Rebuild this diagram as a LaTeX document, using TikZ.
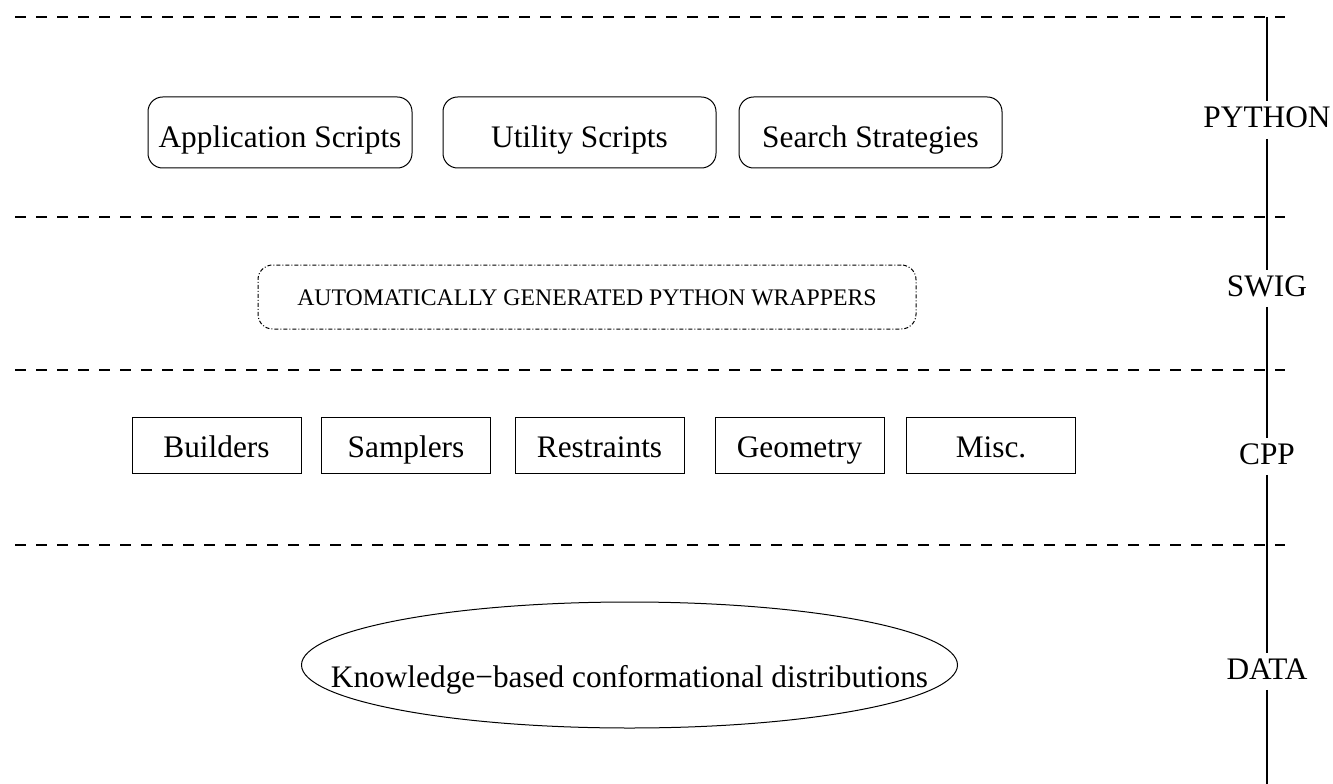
\documentclass[tikz,border=0pt]{standalone}
\usepackage{fontspec}
\setmainfont{Liberation Serif}

\tikzset{every picture/.style={line width=0.75pt}}
\tikzset{
  layer/.style={dash pattern={on 8.25pt off 7.5pt},line width=0.9pt},
  scriptbox/.style={draw,rounded corners=11pt,minimum width=#1,minimum height=53.25pt,inner sep=0pt,text height=23.25pt,text depth=0pt,font=\fontsize{23.5}{28}\selectfont},
  modbox/.style={draw,minimum width=126.75pt,minimum height=42pt,inner sep=0pt,text height=18pt,text depth=0pt,font=\fontsize{23.5}{28}\selectfont},
  layername/.style={anchor=base,inner xsep=2pt,inner ysep=3pt,text height=16.5pt,text depth=4.7pt,font=\fontsize{23.5}{28}\selectfont}
}

\begin{document}
\begin{tikzpicture}[x=0.75pt,y=0.75pt,yscale=-1,xscale=1]
		\useasboundingbox (0,0) rectangle (1333,784);

		%Straight Lines (layer borders)
		\draw [layer]  (15,17) -- (1285,17) ;
		\draw [layer]  (15,217) -- (1285,217) ;
		\draw [layer]  (15,370) -- (1285,370) ;
		\draw [layer]  (15,545) -- (1285,545) ;

		% Text Node
		\node [layername] (python) at (1267,128) {PYTHON};
		% Text Node
		\node [layername] (swig) at (1267,296) {SWIG};
		% Text Node
		\node [layername] (cpp) at (1267,464) {CPP};
		% Text Node
		\node [layername] (data) at (1267,679) {DATA};

		%Straight Lines (axis)
		\coordinate (top) at (1267,17);
		\coordinate (bottom) at (1267,784);
		\draw [line width=0.9pt]  (top) -- (python) -- (swig) -- (cpp) -- (data) -- (bottom) ;

		%Rounded Rect
		\node [scriptbox=198pt] (app) at (280,132.5) {Application Scripts};
		%Rounded Rect
		\node [scriptbox=204.75pt] (util) at (579.5,132.5) {Utility Scripts};
		%Rounded Rect
		\node [scriptbox=197.25pt] (search) at (870.5,132.5) {Search Strategies};

		%Rounded Rect
		\node [draw,rounded corners=11pt,dash pattern={on 3pt off 1.5pt on 0.75pt off 1.5pt},minimum width=493.5pt,minimum height=48pt,inner sep=0pt,text height=12pt,text depth=0pt,font=\fontsize{17.8}{21}\selectfont] (wrap) at (587,297) {AUTOMATICALLY GENERATED PYTHON WRAPPERS};

		%Shape: Rectangle
		\node [modbox] (build) at (216.5,445) {Builders};
		%Shape: Rectangle
		\node [modbox] (sample) at (406,445) {Samplers};
		%Shape: Rectangle
		\node [modbox] (restr) at (599.5,445) {Restraints};
		%Shape: Rectangle
		\node [modbox] (geom) at (799.5,445) {Geometry};
		%Shape: Rectangle
		\node [modbox] (misc) at (991,445) {Misc.};

		%Shape: Ellipse
		\coordinate (kc) at (629.5,665);
		\draw (kc) ellipse [x radius=328, y radius=63];
		% Text Node
		\node [anchor=base,inner sep=0pt,font=\fontsize{23.5}{28}\selectfont] (know) at (629.5,687) {Knowledge{\char"2212}based conformational distributions};
	\end{tikzpicture}
\end{document}
